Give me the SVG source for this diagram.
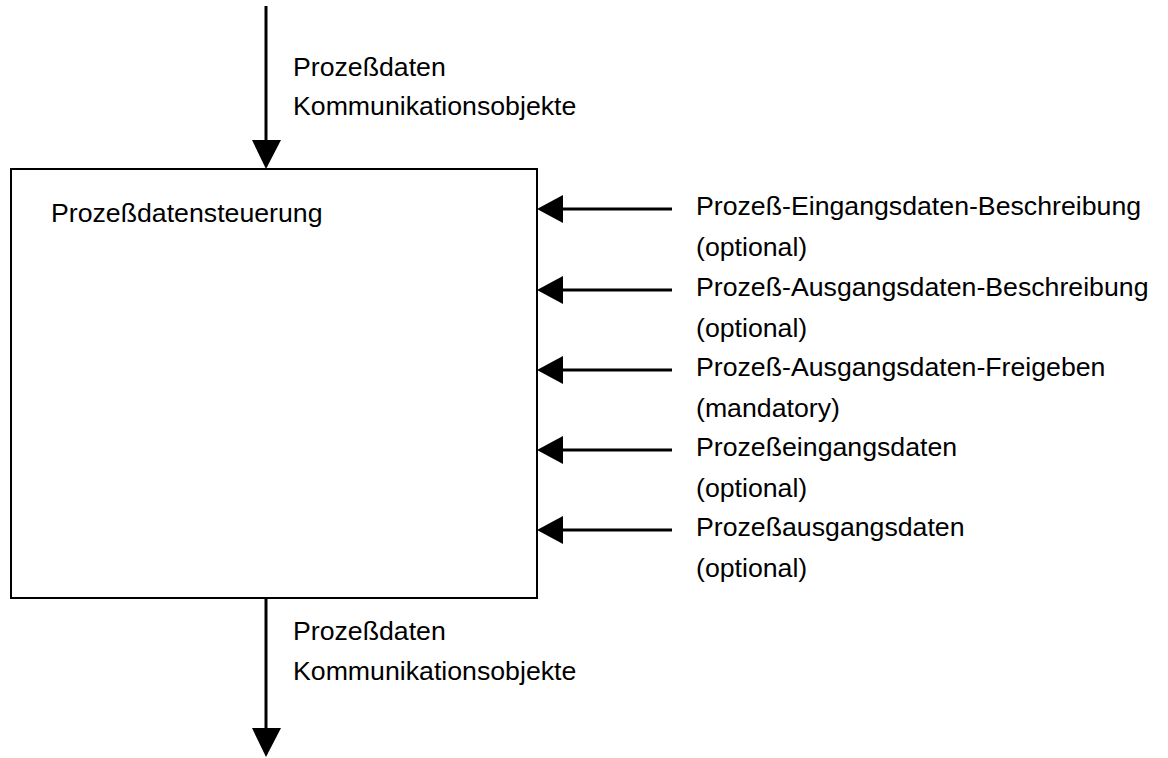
<svg xmlns="http://www.w3.org/2000/svg" width="1168" height="758" viewBox="0 0 1168 758">
  <style>
    .lbl { font-family: "Liberation Sans", Arial, sans-serif; font-size: 26.7px; fill: #000; }
    .wire { stroke: #000; stroke-width: 3; fill: none; }
    .box { fill: #fff; stroke: #000; stroke-width: 2; }
    .head { fill: #000; }
  </style>
  <rect width="1168" height="758" fill="#fff"/>

  <!-- central process block -->
  <g id="prozessdatensteuerung">
    <rect class="box" x="11" y="169" width="526" height="429"/>
    <text class="lbl" x="51" y="222">Prozeßdatensteuerung</text>
  </g>

  <!-- connectors -->
  <g id="connectors">
    <!-- incoming from above -->
    <line class="wire" x1="266" y1="6" x2="266" y2="142"/>
    <polygon class="head" points="252,140 281,140 266,169"/>
    <!-- outgoing below -->
    <line class="wire" x1="266" y1="598" x2="266" y2="730"/>
    <polygon class="head" points="252,728 281,728 266,757"/>
    <!-- side inputs -->
    <line class="wire" x1="672" y1="209" x2="560" y2="209"/>
    <polygon class="head" points="537,209 563,195 563,223"/>
    <line class="wire" x1="672" y1="290" x2="560" y2="290"/>
    <polygon class="head" points="537,290 563,276 563,304"/>
    <line class="wire" x1="672" y1="370" x2="560" y2="370"/>
    <polygon class="head" points="537,370 563,356 563,384"/>
    <line class="wire" x1="672" y1="450" x2="560" y2="450"/>
    <polygon class="head" points="537,450 563,436 563,464"/>
    <line class="wire" x1="672" y1="530" x2="560" y2="530"/>
    <polygon class="head" points="537,530 563,516 563,544"/>
  </g>

  <g id="label-top">
    <text class="lbl" x="293" y="76">Prozeßdaten</text>
    <text class="lbl" x="293" y="115">Kommunikationsobjekte</text>
  </g>
  <g id="label-bottom">
    <text class="lbl" x="293" y="640">Prozeßdaten</text>
    <text class="lbl" x="293" y="680">Kommunikationsobjekte</text>
  </g>

  <g id="label-eingang-beschreibung">
    <text class="lbl" x="696" y="215">Prozeß-Eingangsdaten-Beschreibung</text>
    <text class="lbl" x="696" y="256">(optional)</text>
  </g>
  <g id="label-ausgang-beschreibung">
    <text class="lbl" x="696" y="296">Prozeß-Ausgangsdaten-Beschreibung</text>
    <text class="lbl" x="696" y="337">(optional)</text>
  </g>
  <g id="label-ausgang-freigeben">
    <text class="lbl" x="696" y="376">Prozeß-Ausgangsdaten-Freigeben</text>
    <text class="lbl" x="696" y="417">(mandatory)</text>
  </g>
  <g id="label-eingangsdaten">
    <text class="lbl" x="696" y="456">Prozeßeingangsdaten</text>
    <text class="lbl" x="696" y="497">(optional)</text>
  </g>
  <g id="label-ausgangsdaten">
    <text class="lbl" x="696" y="536">Prozeßausgangsdaten</text>
    <text class="lbl" x="696" y="577">(optional)</text>
  </g>
</svg>
